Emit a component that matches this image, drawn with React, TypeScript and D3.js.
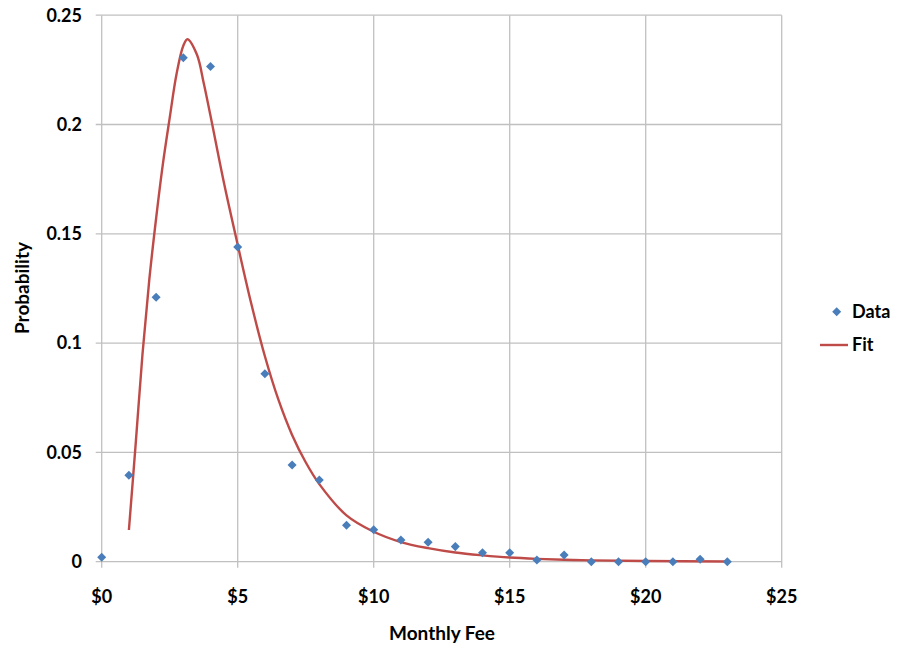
import { useEffect, useRef } from "react";
import * as d3 from "d3";

// observed probabilities at each whole-dollar fee
const dataFees = [0, 1, 2, 3, 4, 5, 6, 7, 8, 9, 10, 11, 12, 13, 14, 15, 16, 17, 18, 19, 20, 21, 22, 23];
const dataProb = [
  0.002, 0.0395, 0.121, 0.2305, 0.2265, 0.144, 0.086, 0.0442, 0.0374, 0.0167, 0.0146, 0.0099,
  0.0089, 0.0069, 0.0041, 0.0041, 0.0008, 0.0031, 0.0, 0.0, 0.0, 0.0, 0.0011, 0.0,
];

// fitted curve
const fitFees = [1, 1.25, 1.5, 1.75, 2, 2.25, 2.5, 2.75, 3, 3.15, 3.5, 3.75, 4, 4.5, 5, 5.5, 6, 6.5, 7, 7.5, 8, 9, 10, 11, 12, 13, 14, 15, 16, 17, 18, 20, 23];
const fitProb = [
  0.0145, 0.054, 0.095, 0.129, 0.157, 0.182, 0.203, 0.223, 0.236, 0.239, 0.232, 0.219, 0.204,
  0.173, 0.145, 0.118, 0.094, 0.074, 0.058, 0.0455, 0.0355, 0.0212, 0.0137, 0.009, 0.0062,
  0.0042, 0.0029, 0.0019, 0.0013, 0.0009, 0.0006, 0.0003, 0.0001,
];

const xTicks = [0, 5, 10, 15, 20, 25];
const yTicks = [0, 0.05, 0.1, 0.15, 0.2, 0.25];

const W = 899;
const H = 648;
const FONT = "Lato, 'Open Sans', sans-serif";
const BLUE = "#4a7ebb";
const RED = "#be4b48";

export default function App() {
  const svgRef = useRef<SVGSVGElement>(null);

  useEffect(() => {
    if (!svgRef.current) return;
    const svg = d3.select(svgRef.current);
    svg.selectAll("*").remove();

    const x = d3.scaleLinear().domain([0, 25]).range([101.7, 781.7]);
    const y = d3.scaleLinear().domain([0, 0.25]).range([561.7, 15.2]);

    const grid = svg.append("g");
    grid.selectAll("line.v")
      .data(xTicks)
      .join("line")
      .attr("x1", (d) => x(d))
      .attr("x2", (d) => x(d))
      .attr("y1", y(0.25))
      .attr("y2", y(0) + 6)
      .attr("stroke", "#c0c0c0")
      .attr("stroke-width", 1.3);
    grid.selectAll("line.h")
      .data(yTicks)
      .join("line")
      .attr("x1", x(0) - 6)
      .attr("x2", x(25))
      .attr("y1", (d) => y(d))
      .attr("y2", (d) => y(d))
      .attr("stroke", "#c0c0c0")
      .attr("stroke-width", 1.3);

    // tick labels
    svg.append("g")
      .selectAll("text")
      .data(yTicks)
      .join("text")
      .attr("x", 82)
      .attr("y", (d) => y(d))
      .attr("dy", "0.35em")
      .attr("text-anchor", "end")
      .style("font-family", FONT)
      .style("font-weight", "700")
      .style("font-size", "18px")
      .text((d) => (d === 0 ? "0" : String(d)));

    svg.append("g")
      .selectAll("text")
      .data(xTicks)
      .join("text")
      .attr("x", (d) => x(d))
      .attr("y", 597)
      .attr("dy", "0.35em")
      .attr("text-anchor", "middle")
      .style("font-family", FONT)
      .style("font-weight", "700")
      .style("font-size", "18px")
      .text((d) => `$${d}`);

    // axis titles
    svg.append("text")
      .attr("x", 442)
      .attr("y", 633)
      .attr("dy", "0.35em")
      .attr("text-anchor", "middle")
      .style("font-family", FONT)
      .style("font-weight", "700")
      .style("font-size", "19px")
      .text("Monthly Fee");

    svg.append("text")
      .attr("transform", "translate(22,288) rotate(-90)")
      .attr("dy", "0.35em")
      .attr("text-anchor", "middle")
      .style("font-family", FONT)
      .style("font-weight", "700")
      .style("font-size", "19px")
      .text("Probability");

    // fit line
    const line = d3.line<number>()
      .x((d) => x(d))
      .y((_, i) => y(fitProb[i]))
      .curve(d3.curveCatmullRom.alpha(0.5));
    svg.append("path")
      .attr("d", line(fitFees) || "")
      .attr("fill", "none")
      .attr("stroke", RED)
      .attr("stroke-width", 2.4);

    // data markers
    const diamond = d3.symbol().type(d3.symbolDiamond2).size(52);
    svg.append("g")
      .selectAll("path")
      .data(dataFees)
      .join("path")
      .attr("d", diamond() || "")
      .attr("transform", (d, i) => `translate(${x(d)},${y(dataProb[i])})`)
      .attr("fill", BLUE);

    // legend
    const legend = svg.append("g");
    legend.append("path")
      .attr("d", diamond() || "")
      .attr("transform", "translate(836.7,311.7)")
      .attr("fill", BLUE);
    legend.append("line")
      .attr("x1", 820)
      .attr("x2", 848)
      .attr("y1", 345)
      .attr("y2", 345)
      .attr("stroke", RED)
      .attr("stroke-width", 2.4);
    legend.selectAll("text")
      .data(["Data", "Fit"])
      .join("text")
      .attr("x", 852)
      .attr("y", (_, i) => (i === 0 ? 311.7 : 345))
      .attr("dy", "0.35em")
      .style("font-family", FONT)
      .style("font-weight", "700")
      .style("font-size", "18px")
      .text((d) => d);
  }, []);

  return (
    <svg
      ref={svgRef}
      width={W}
      height={H}
      style={{ position: "absolute", left: 0, top: 0, background: "#fff" }}
    />
  );
}
